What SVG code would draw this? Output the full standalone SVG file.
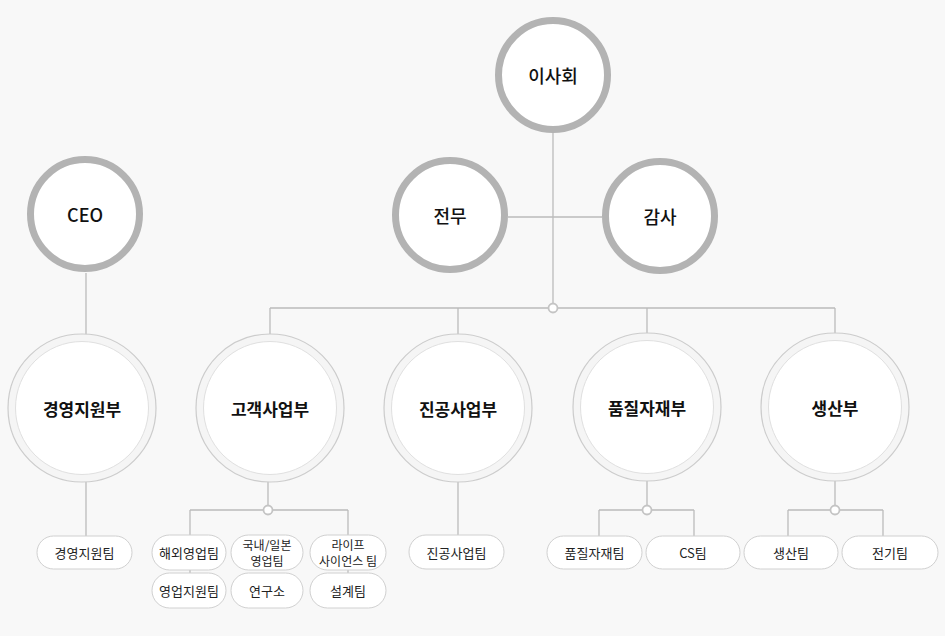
<svg xmlns="http://www.w3.org/2000/svg" width="945" height="636" viewBox="0 0 945 636">
<style>
.bg{fill:#f8f8f8}
.top{fill:#ffffff;stroke:#b3b3b3;stroke-width:7}
.ringO{fill:#f5f5f5;stroke:#cccccc;stroke-width:1.2}
.ringI{fill:#ffffff;stroke:#e0e0e0;stroke-width:1}
.pill{fill:#ffffff;stroke:#d0d0d0;stroke-width:1}
.ln{stroke:#bbbbbb;stroke-width:1.3;fill:none}
.jn{fill:#ffffff;stroke:#c4c4c4;stroke-width:1.8}
text{font-family:"Noto Sans CJK KR","Noto Sans",sans-serif;text-anchor:middle;dominant-baseline:central}
.t1{font-size:18px;font-weight:500;fill:#111}
.t2{font-size:17px;font-weight:bold;fill:#111}
.t3{font-size:13px;fill:#222}
.t4{font-size:12px;fill:#222}
</style>
<rect class="bg" x="0" y="0" width="945" height="636"/>
<g id="connectors">
<line class="ln" x1="553" y1="133" x2="553" y2="303"/>
<line class="ln" x1="508" y1="217" x2="602" y2="217"/>
<line class="ln" x1="270" y1="308" x2="548" y2="308"/>
<line class="ln" x1="558" y1="308" x2="835" y2="308"/>
<line class="ln" x1="270" y1="308" x2="270" y2="334"/>
<line class="ln" x1="458" y1="308" x2="458" y2="334"/>
<line class="ln" x1="647" y1="308" x2="647" y2="333"/>
<line class="ln" x1="835" y1="308" x2="835" y2="333"/>
<line class="ln" x1="86" y1="273" x2="86" y2="335"/>
<line class="ln" x1="86" y1="482" x2="86" y2="536"/>
<line class="ln" x1="268" y1="482" x2="268" y2="506"/>
<line class="ln" x1="190" y1="510" x2="264" y2="510"/>
<line class="ln" x1="272" y1="510" x2="348" y2="510"/>
<line class="ln" x1="190" y1="510" x2="190" y2="575"/>
<line class="ln" x1="348" y1="510" x2="348" y2="575"/>
<line class="ln" x1="458" y1="482" x2="458" y2="535"/>
<line class="ln" x1="647" y1="481" x2="647" y2="506"/>
<line class="ln" x1="599" y1="510" x2="643" y2="510"/>
<line class="ln" x1="651" y1="510" x2="694" y2="510"/>
<line class="ln" x1="599" y1="510" x2="599" y2="536"/>
<line class="ln" x1="694" y1="510" x2="694" y2="536"/>
<line class="ln" x1="835" y1="481" x2="835" y2="506"/>
<line class="ln" x1="788" y1="510" x2="831" y2="510"/>
<line class="ln" x1="839" y1="510" x2="883" y2="510"/>
<line class="ln" x1="788" y1="510" x2="788" y2="536"/>
<line class="ln" x1="883" y1="510" x2="883" y2="536"/>
<circle class="jn" cx="553" cy="308" r="4.5"/>
<circle class="jn" cx="268" cy="510" r="4.5"/>
<circle class="jn" cx="647" cy="510" r="4.5"/>
<circle class="jn" cx="835" cy="510" r="4.5"/>
</g>
<g id="n-board"><circle class="top" cx="553" cy="75" r="54.5"/><text class="t1" x="553" y="75">이사회</text></g>
<g id="n-director"><circle class="top" cx="450" cy="215" r="54.5"/><text class="t1" x="450" y="215">전무</text></g>
<g id="n-audit"><circle class="top" cx="660" cy="216" r="54.5"/><text class="t1" x="660" y="216">감사</text></g>
<g id="n-ceo"><circle class="top" cx="85" cy="214" r="54.5"/><text class="t1" x="85" y="214">CEO</text></g>
<g id="n-mgmt"><circle class="ringO" cx="82" cy="408" r="74"/><circle class="ringI" cx="82" cy="408" r="66.5"/><text class="t2" x="82" y="408">경영지원부</text></g>
<g id="n-customer"><circle class="ringO" cx="270" cy="408" r="74"/><circle class="ringI" cx="270" cy="408" r="66.5"/><text class="t2" x="270" y="408">고객사업부</text></g>
<g id="n-vacuum"><circle class="ringO" cx="458" cy="408" r="74"/><circle class="ringI" cx="458" cy="408" r="66.5"/><text class="t2" x="458" y="408">진공사업부</text></g>
<g id="n-quality"><circle class="ringO" cx="647" cy="407" r="74"/><circle class="ringI" cx="647" cy="407" r="66.5"/><text class="t2" x="647" y="407">품질자재부</text></g>
<g id="n-production"><circle class="ringO" cx="835" cy="407" r="74"/><circle class="ringI" cx="835" cy="407" r="66.5"/><text class="t2" x="835" y="407">생산부</text></g>
<g id="p-mgmt-team"><rect class="pill" x="37" y="536" width="95" height="33" rx="16.5"/><text class="t3" x="84.5" y="552.5">경영지원팀</text></g>
<g id="p-overseas"><rect class="pill" x="152" y="535" width="74" height="35" rx="17.5"/><text class="t3" x="189" y="552.5">해외영업팀</text></g>
<g id="p-domestic"><rect class="pill" x="231" y="535" width="72" height="35" rx="17.5"/><text class="t4" x="267" y="544.5">국내/일본</text><text class="t4" x="267" y="560">영업팀</text></g>
<g id="p-life"><rect class="pill" x="310" y="535" width="76" height="35" rx="17.5"/><text class="t4" x="348" y="544.5">라이프</text><text class="t4" x="348" y="560">사이언스 팀</text></g>
<g id="p-salessupport"><rect class="pill" x="152" y="573" width="74" height="35" rx="17.5"/><text class="t3" x="189" y="590.5">영업지원팀</text></g>
<g id="p-lab"><rect class="pill" x="231" y="573" width="72" height="35" rx="17.5"/><text class="t3" x="267" y="590.5">연구소</text></g>
<g id="p-design"><rect class="pill" x="310" y="573" width="76" height="35" rx="17.5"/><text class="t3" x="348" y="590.5">설계팀</text></g>
<g id="p-vacuum-team"><rect class="pill" x="409" y="535" width="95" height="34" rx="17"/><text class="t3" x="456.5" y="552">진공사업팀</text></g>
<g id="p-quality-team"><rect class="pill" x="547" y="536" width="95" height="33" rx="16.5"/><text class="t3" x="594.5" y="552.5">품질자재팀</text></g>
<g id="p-cs"><rect class="pill" x="646" y="536" width="94" height="33" rx="16.5"/><text class="t3" x="693" y="552.5">CS팀</text></g>
<g id="p-prod-team"><rect class="pill" x="744" y="536" width="94" height="33" rx="16.5"/><text class="t3" x="791" y="552.5">생산팀</text></g>
<g id="p-elec"><rect class="pill" x="842" y="536" width="96" height="33" rx="16.5"/><text class="t3" x="890" y="552.5">전기팀</text></g>
</svg>
